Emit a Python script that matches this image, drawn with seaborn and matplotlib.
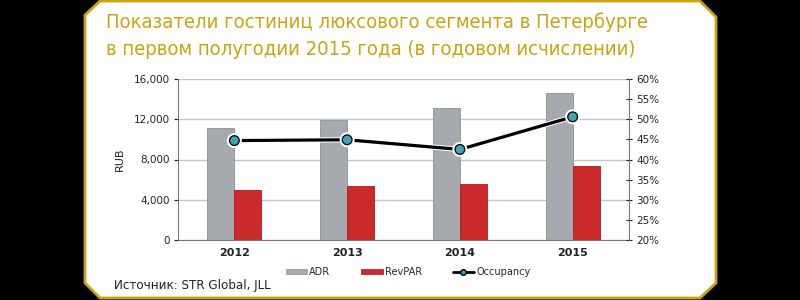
import matplotlib
matplotlib.use('Agg')
import matplotlib.pyplot as plt
import matplotlib.patheffects as pe
from matplotlib.patches import Polygon, Patch
from matplotlib.lines import Line2D
from matplotlib.ticker import FuncFormatter, MultipleLocator
import pandas as pd
import seaborn as sns

# data
years = ['2012', '2013', '2014', '2015']
adr = [11150, 11950, 13150, 14650]
revpar = [5000, 5400, 5600, 7400]
occupancy = [44.7, 44.9, 42.5, 50.6]

title_lines = ['Показатели гостиниц люксового сегмента в Петербурге',
               'в первом полугодии 2015 года (в годовом исчислении)']
source = 'Источник: STR Global, JLL'

gold = '#C9A411'
grey = '#A6AAAE'
red = '#CB2A2B'
teal = '#3AA5B5'

sns.set_style('white')
plt.rcParams['font.family'] = ['DejaVu Sans']

df = pd.DataFrame({'year': years * 2,
                   'value': adr + revpar,
                   'series': ['ADR'] * 4 + ['RevPAR'] * 4})

fig = plt.figure(figsize=(8, 3), dpi=100)
fig.patch.set_facecolor('black')

# gold frame
W, H = 800, 300
pts = [(85, 15), (100, 1), (700, 1), (716, 17), (716, 283), (700, 298), (100, 298), (85, 283)]
frame = Polygon([(x / W, 1 - y / H) for x, y in pts], closed=True,
                transform=fig.transFigure, facecolor='white', edgecolor=gold, lw=2, zorder=-5)
fig.patches.append(frame)

ax = fig.add_axes([178 / W, 1 - 240 / H, (629 - 178) / W, (240 - 79) / H])
ax.set_facecolor('none')
sns.barplot(data=df, x='year', y='value', hue='series', palette=[grey, red],
            width=0.48, ax=ax, legend=False, saturation=1)
for i, bar in enumerate(ax.patches):
    bar.set_edgecolor('#8C9094' if i < 4 else '#B01818')
    bar.set_linewidth(0.6)

ax.set_ylim(0, 16000)
ax.set_xlim(-0.5, 3.5)
ax.yaxis.set_major_locator(MultipleLocator(4000))
ax.yaxis.set_major_formatter(FuncFormatter(lambda v, p: f'{int(v):,}'))
ax.grid(axis='y', color='#C4C4C4', lw=1)
ax.set_axisbelow(True)
ax.set_xlabel('')
ax.set_ylabel('RUB', fontsize=8, color='#222222', labelpad=6)
ax.tick_params(axis='y', labelsize=7.5, colors='#222222', length=3, width=0.8, pad=3)
ax.tick_params(axis='x', labelsize=8, colors='#222222', length=0, pad=6)
for lab in ax.get_xticklabels():
    lab.set_fontweight('bold')
ax.set_xticks([0.5, 1.5, 2.5], minor=True)
ax.tick_params(axis='x', which='minor', length=4, width=0.8, color='#555555', direction='inout')
for s in ['top', 'right']:
    ax.spines[s].set_visible(False)
for s in ['left', 'bottom']:
    ax.spines[s].set_color('#777777')
    ax.spines[s].set_linewidth(0.8)

ax2 = ax.twinx()
sns.lineplot(x=list(range(4)), y=occupancy, ax=ax2, color='black', lw=2.3,
             marker='o', markersize=7, markerfacecolor=teal, markeredgecolor='black',
             markeredgewidth=0.9,
             path_effects=[pe.Stroke(linewidth=3.8, foreground='white'), pe.Normal()])
ax2.set_ylim(20, 60)
ax2.yaxis.set_major_locator(MultipleLocator(5))
ax2.yaxis.set_major_formatter(FuncFormatter(lambda v, p: f'{int(v)}%'))
ax2.tick_params(axis='y', labelsize=7.5, colors='#222222', length=4, width=0.8,
                direction='inout', pad=3)
ax2.grid(False)
for s in ['top', 'left', 'bottom']:
    ax2.spines[s].set_visible(False)
ax2.spines['right'].set_visible(True)
ax2.spines['right'].set_color('#777777')
ax2.spines['right'].set_linewidth(0.8)

handles = [Patch(facecolor=grey, edgecolor='#8C9094', lw=0.5, label='ADR'),
           Patch(facecolor=red, edgecolor='#B01818', lw=0.5, label='RevPAR'),
           Line2D([], [], color='black', lw=2, marker='o', markersize=4,
                  markerfacecolor=teal, markeredgecolor='black', label='Occupancy')]
fig.legend(handles=handles, loc='center', bbox_to_anchor=(408 / W, 1 - 272 / H),
           ncol=3, frameon=False, fontsize=7, handlelength=2.2, handleheight=0.5,
           handletextpad=0.2, columnspacing=3.2)

fig.text(106 / W, 1 - 28 / H, title_lines[0], color=gold, fontsize=14.5,
         fontstretch='condensed', va='baseline', ha='left')
fig.text(106 / W, 1 - 55 / H, title_lines[1], color=gold, fontsize=14.5,
         fontstretch='condensed', va='baseline', ha='left')
fig.text(114 / W, 1 - 285 / H, source, color='#222222', fontsize=9.5,
         va='center', ha='left', fontstretch='condensed')

fig.savefig('out.png', dpi=100, facecolor=fig.get_facecolor())
